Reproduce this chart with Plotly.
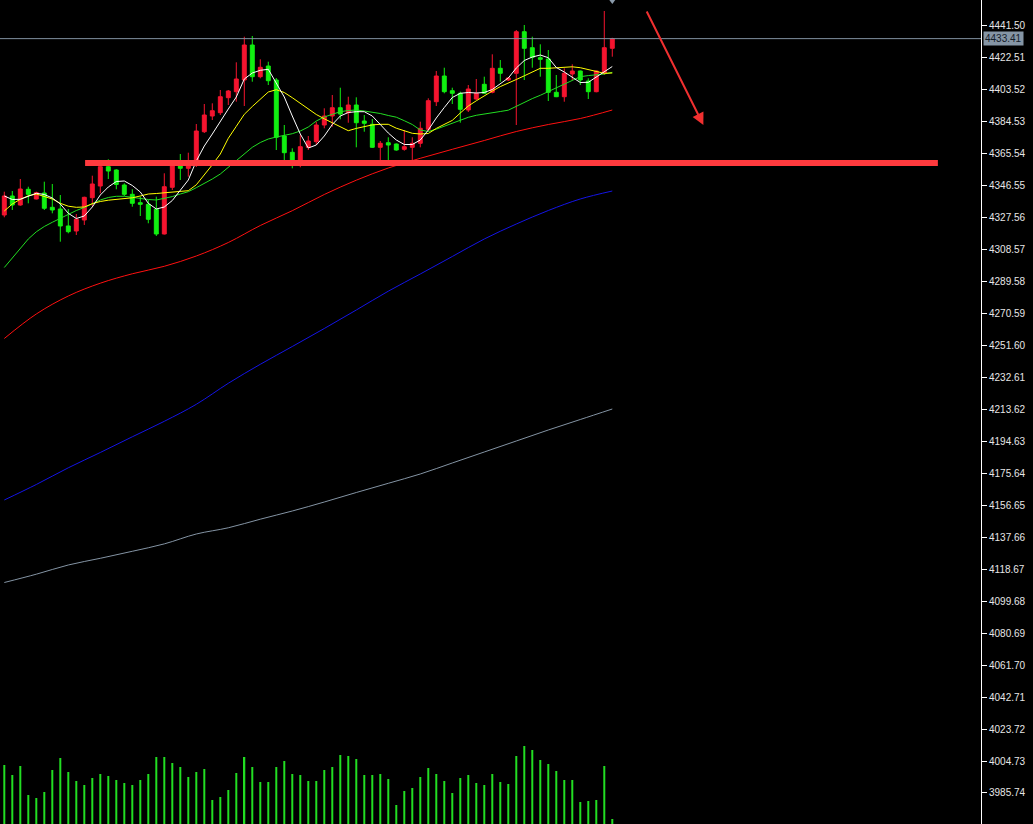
import plotly.graph_objects as go

idx = list(range(77))

opens = [
    4328.75, 4340.03, 4334.68, 4344.00, 4338.25, 4341.81, 4333.32, 4332.31, 4322.23, 4319.26,
    4325.78, 4339.02, 4345.96, 4357.41, 4355.45, 4346.55, 4341.03, 4336.05, 4335.10, 4332.13,
    4317.48, 4345.19, 4357.83, 4356.46, 4358.42, 4378.18, 4387.50, 4389.46, 4398.36, 4401.92,
    4408.86, 4429.63, 4410.82, 4417.17, 4408.86, 4375.63, 4365.96, 4359.43, 4368.92, 4372.25,
    4382.16, 4387.50, 4392.42, 4389.46, 4394.02, 4384.53, 4382.57, 4368.92, 4371.65, 4370.88,
    4367.74, 4368.92, 4371.30, 4379.60, 4395.98, 4411.24, 4402.51, 4400.97, 4391.06, 4397.59,
    4406.31, 4401.56, 4415.80, 4408.86, 4412.84, 4437.52, 4428.03, 4422.09, 4421.32, 4401.56,
    4398.95, 4412.42, 4414.20, 4408.27, 4401.92, 4412.84, 4427.67]

highs = [
    4342.58, 4342.99, 4350.11, 4345.54, 4342.58, 4348.51, 4347.15, 4340.61, 4332.31, 4329.34,
    4339.61, 4352.07, 4359.61, 4361.80, 4355.87, 4347.56, 4344.00, 4339.61, 4337.65, 4339.61,
    4353.50, 4359.61, 4364.95, 4365.72, 4382.75, 4394.62, 4395.03, 4402.93, 4402.93, 4419.36,
    4434.56, 4434.97, 4421.15, 4419.72, 4410.05, 4382.16, 4368.33, 4376.22, 4375.63, 4384.12,
    4392.07, 4399.96, 4404.29, 4398.95, 4398.59, 4388.09, 4385.72, 4372.66, 4374.86, 4371.20,
    4379.19, 4374.86, 4384.12, 4398.00, 4414.20, 4416.16, 4404.29, 4401.92, 4405.89, 4409.46,
    4410.82, 4424.11, 4420.73, 4410.64, 4438.53, 4441.50, 4434.56, 4430.05, 4426.66, 4411.83,
    4415.80, 4418.18, 4414.50, 4409.87, 4414.50, 4449.81, 4433.90]

lows = [
    4327.39, 4331.72, 4334.20, 4335.69, 4338.00, 4331.72, 4329.76, 4312.91, 4317.89, 4316.88,
    4322.82, 4334.00, 4341.63, 4350.11, 4344.00, 4340.03, 4333.68, 4328.16, 4323.83, 4316.29,
    4317.20, 4343.59, 4349.52, 4351.48, 4357.24, 4377.41, 4385.12, 4388.09, 4394.02, 4395.98,
    4393.43, 4407.85, 4409.87, 4405.89, 4367.32, 4360.38, 4356.46, 4357.06, 4367.32, 4370.29,
    4380.20, 4381.15, 4385.54, 4383.52, 4368.92, 4378.18, 4368.60, 4360.38, 4360.97, 4366.90,
    4366.90, 4361.39, 4368.92, 4378.18, 4393.43, 4400.97, 4394.62, 4383.52, 4389.87, 4396.99,
    4400.70, 4400.97, 4407.85, 4408.27, 4382.16, 4408.86, 4416.16, 4410.82, 4396.40, 4398.70,
    4395.98, 4408.86, 4405.89, 4397.59, 4401.56, 4411.83, 4422.69]

closes = [
    4340.03, 4334.68, 4344.18, 4341.03, 4341.98, 4332.73, 4331.72, 4322.23, 4318.84, 4326.20,
    4339.25, 4347.15, 4357.41, 4354.86, 4346.85, 4341.03, 4335.69, 4335.10, 4326.20, 4317.48,
    4345.54, 4357.83, 4356.46, 4357.83, 4378.59, 4388.09, 4390.64, 4398.95, 4402.33, 4409.46,
    4429.63, 4410.82, 4416.40, 4408.45, 4374.86, 4365.72, 4359.78, 4369.28, 4372.66, 4382.16,
    4387.50, 4392.42, 4388.68, 4394.02, 4383.52, 4383.17, 4368.92, 4371.30, 4370.29, 4367.32,
    4369.28, 4371.30, 4380.20, 4396.58, 4411.24, 4401.92, 4400.97, 4391.47, 4403.52, 4400.97,
    4400.97, 4415.80, 4412.84, 4410.05, 4437.52, 4427.67, 4422.33, 4421.15, 4401.56, 4398.95,
    4412.84, 4414.20, 4408.86, 4401.92, 4414.20, 4428.03, 4433.41]

volumes = [
    5900, 4900, 5800, 2900, 2600, 3200, 5400, 6600, 5200, 4300,
    3900, 4600, 5000, 4800, 4400, 4100, 3900, 4400, 5000, 6700,
    6700, 6100, 5700, 4700, 5200, 5500, 2400, 2700, 3400, 5100,
    6700, 5700, 4200, 4200, 5700, 6300, 5000, 4900, 4300, 4300,
    5400, 5700, 6900, 6800, 6500, 4900, 4900, 5000, 4500, 1900,
    3300, 3600, 4700, 5600, 5000, 4300, 3100, 4600, 4900, 4100,
    3900, 5000, 4200, 4000, 6800, 7800, 7400, 6400, 6000, 5300,
    4400, 4400, 2200, 2300, 2400, 5800, 500]

ma5 = [
    4340.03, 4337.95, 4338.07, 4340.03, 4341.63, 4340.92, 4338.84, 4335.28, 4329.76, 4326.67,
    4328.16, 4333.50, 4340.62, 4345.37, 4348.63, 4348.93, 4346.26, 4342.40, 4335.69, 4332.31,
    4333.50, 4337.35, 4343.59, 4349.52, 4360.80, 4369.70, 4376.82, 4384.53, 4391.65, 4398.77,
    4409.46, 4413.01, 4414.62, 4415.21, 4407.38, 4398.77, 4387.50, 4376.82, 4368.51, 4370.29,
    4375.63, 4382.45, 4387.50, 4389.58, 4390.05, 4390.05, 4387.50, 4382.16, 4377.41, 4373.26,
    4370.59, 4370.59, 4373.26, 4379.19, 4386.31, 4392.54, 4398.48, 4400.97, 4401.44, 4401.15,
    4401.44, 4403.22, 4406.90, 4410.05, 4415.98, 4420.43, 4422.51, 4423.70, 4422.09, 4416.28,
    4413.61, 4410.64, 4407.38, 4407.50, 4410.64, 4413.61, 4416.87]

ma10 = [
    4331.12, 4335.28, 4338.07, 4340.15, 4341.21, 4339.85, 4338.25, 4335.69, 4333.97, 4333.32,
    4333.50, 4335.46, 4336.76, 4337.53, 4338.07, 4338.42, 4338.96, 4340.03, 4341.21, 4341.51,
    4341.93, 4342.16, 4342.58, 4343.17, 4346.67, 4352.31, 4358.54, 4364.95, 4374.27, 4381.39,
    4388.51, 4393.14, 4397.41, 4401.74, 4403.11, 4401.44, 4398.36, 4395.21, 4392.07, 4388.39,
    4385.84, 4383.46, 4381.15, 4378.77, 4380.14, 4381.39, 4382.22, 4382.57, 4382.57, 4380.26,
    4378.59, 4377.23, 4376.82, 4377.11, 4380.14, 4382.45, 4384.89, 4389.28, 4393.43, 4396.52,
    4399.55, 4402.33, 4404.95, 4406.90, 4409.16, 4411.35, 4413.49, 4415.80, 4415.80, 4416.16,
    4416.58, 4416.69, 4416.16, 4415.03, 4413.55, 4412.84, 4413.01]

ma20 = [
    4297.59, 4303.23, 4309.17, 4314.51, 4318.78, 4321.93, 4324.42, 4326.79, 4329.05, 4331.42,
    4333.20, 4335.58, 4337.65, 4339.14, 4339.85, 4339.85, 4339.14, 4338.25, 4337.95, 4337.65,
    4338.54, 4339.67, 4341.21, 4342.58, 4344.95, 4347.32, 4350.11, 4353.08, 4356.94, 4361.09,
    4364.95, 4368.92, 4371.77, 4373.85, 4375.04, 4375.81, 4377.00, 4378.59, 4380.97, 4384.53,
    4386.91, 4388.51, 4390.05, 4390.76, 4391.06, 4390.47, 4389.87, 4388.98, 4387.80, 4386.79,
    4384.71, 4382.45, 4379.19, 4378.30, 4379.67, 4381.39, 4383.23, 4385.12, 4386.73, 4387.92,
    4388.81, 4389.58, 4390.17, 4390.94, 4393.32, 4395.63, 4397.83, 4399.79, 4401.98, 4404.00,
    4406.19, 4408.86, 4410.82, 4411.48, 4411.95, 4412.42, 4413.43]

long_idx = [0, 4, 8, 12, 16, 20, 24, 28, 32, 36, 40, 44, 48, 52, 56, 60, 64, 68, 72, 76]

ma60 = [4255.46, 4270.00, 4280.68, 4288.28, 4293.86, 4298.31, 4304.42, 4312.43, 4322.52, 4331.30,
        4340.92, 4349.40, 4356.64, 4362.40, 4367.74, 4372.96, 4378.30, 4382.45, 4386.01, 4391.06]

ma120 = [4159.62, 4168.82, 4178.73, 4187.81, 4197.13, 4206.32, 4216.41, 4228.88, 4240.15, 4250.71,
         4261.39, 4272.37, 4283.53, 4293.74, 4304.12, 4314.51, 4323.41, 4331.42, 4338.25, 4342.99]

ma240 = [4110.66, 4115.59, 4121.05, 4125.02, 4129.18, 4133.57, 4139.44, 4143.13, 4148.23, 4153.09,
         4158.43, 4164.07, 4169.53, 4175.05, 4181.58, 4188.11, 4194.63, 4201.16, 4207.39, 4213.62]

tick_labels = ["4441.50", "4422.51", "4403.52", "4384.53", "4365.54", "4346.55", "4327.56",
               "4308.57", "4289.58", "4270.59", "4251.60", "4232.61", "4213.62", "4194.63",
               "4175.64", "4156.65", "4137.66", "4118.67", "4099.68", "4080.69", "4061.70",
               "4042.71", "4023.72", "4004.73", "3985.74"]

last_price = 4433.41
support_level = 4359.6
support_span = [10.1, 116.7]
arrow_from = [80.21, 4450.40]
arrow_to = [87.39, 4382.16]

RED = "#f5142f"
GREEN = "#11f011"

fig = go.Figure()

fig.add_trace(go.Bar(x=idx, y=volumes, yaxis="y2", width=0.25,
                     marker=dict(color="#22dd22", line=dict(width=0)),
                     hoverinfo="skip", showlegend=False))

fig.add_trace(go.Candlestick(
    x=idx, open=opens, high=highs, low=lows, close=closes,
    increasing=dict(line=dict(color=RED, width=1), fillcolor=RED),
    decreasing=dict(line=dict(color=GREEN, width=1), fillcolor=GREEN),
    whiskerwidth=0, showlegend=False))

for ys, xs, col, shp in [(ma240, long_idx, "#8494a4", "spline"),
                         (ma120, long_idx, "#1414e6", "spline"),
                         (ma60, long_idx, "#ff1010", "spline"),
                         (ma20, idx, "#22dd22", "linear"),
                         (ma10, idx, "#ffff00", "linear"),
                         (ma5, idx, "#ffffff", "linear")]:
    fig.add_trace(go.Scatter(x=xs, y=ys, mode="lines",
                             line=dict(color=col, width=1, shape=shp), hoverinfo="skip",
                             showlegend=False))

fig.add_trace(go.Scatter(x=[idx[-1]], y=[4457.3], mode="markers",
                         marker=dict(symbol="triangle-down", size=11, color="#8a9aaa"),
                         hoverinfo="skip", showlegend=False))

fig.add_shape(type="line", xref="paper", x0=0, x1=1, yref="y",
              y0=last_price, y1=last_price, line=dict(color="#8090a0", width=1))
fig.add_shape(type="line", xref="x", yref="y", x0=support_span[0], x1=support_span[1],
              y0=support_level, y1=support_level, line=dict(color="#ff3a3e", width=6))

fig.add_annotation(x=arrow_to[0], y=arrow_to[1], ax=arrow_from[0], ay=arrow_from[1],
                   xref="x", yref="y", axref="x", ayref="y", text="", showarrow=True,
                   arrowhead=2, arrowsize=1.2, arrowwidth=2, arrowcolor="#f03030")

fig.add_annotation(x=1, xref="paper", xanchor="left", xshift=2, y=last_price, yref="y",
                   text="4433.41", showarrow=False, bgcolor="#8595a5", borderpad=1,
                   font=dict(family="Liberation Sans", size=10, color="#15202b"))

tick_vals = [float(t) for t in tick_labels]

fig.update_layout(
    width=1033, height=824,
    margin=dict(l=0, r=52, t=0, b=0),
    paper_bgcolor="#000000", plot_bgcolor="#000000",
    showlegend=False,
    xaxis=dict(range=[-0.5375, 122.09], visible=False, rangeslider=dict(visible=False),
               fixedrange=True),
    yaxis=dict(range=[3967.34, 4456.34], side="right", tickvals=tick_vals,
               ticktext=tick_labels, ticks="outside", ticklen=5, tickcolor="#ffffff",
               showline=True, linecolor="#ffffff", linewidth=1, showgrid=False,
               zeroline=False, tickfont=dict(family="Liberation Sans", size=10, color="#e6e6e6")),
    yaxis2=dict(overlaying="y", range=[0, 82400], visible=False, fixedrange=True),
)

fig.write_html("out.html", config={"displayModeBar": False},
               post_script="document.body.style.margin='0';document.body.style.overflow='hidden';")
